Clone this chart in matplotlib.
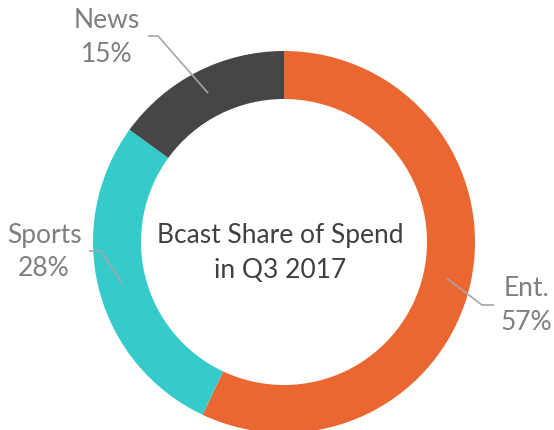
import numpy as np
import matplotlib.pyplot as plt

plt.rcParams['font.family'] = ['Lato', 'DejaVu Sans']

categories = ['Ent.', 'Sports', 'News']
shares = [57, 28, 15]
colors = ['#EB6731', '#36CBCB', '#464646']

# label block centres and leader elbows, in pixel coords (y down)
label_pos = {'Ent.': (526, 305), 'Sports': (44, 252), 'News': (107, 37)}
elbow = {'Ent.': [(482, 305), (494, 305)],
         'Sports': [(101, 251), (89, 251)],
         'News': [(158, 36), (148, 36)]}

W, H = 554, 430
fig = plt.figure(figsize=(W / 100, H / 100), dpi=100)
ax = fig.add_axes([0, 0, 1, 1])

cx, cy = 284, H - 242
R, ring = 191, 48

wedges, _ = ax.pie(shares, colors=colors, startangle=90, counterclock=False,
                   center=(cx, cy), radius=R,
                   wedgeprops=dict(width=ring, linewidth=0), frame=True)
ax.set_xlim(0, W)
ax.set_ylim(0, H)
ax.axis('off')

for w, name, val in zip(wedges, categories, shares):
    ang = np.deg2rad((w.theta1 + w.theta2) / 2)
    r = R - ring / 2
    p0 = (cx + r * np.cos(ang), cy + r * np.sin(ang))
    pts = [p0] + [(x, H - y) for x, y in elbow[name]]
    xs, ys = zip(*pts)
    ax.plot(xs, ys, color='#A6A6A6', lw=1.2, solid_capstyle='butt')
    lx, ly = label_pos[name]
    ax.text(lx, H - ly, f'{name}\n{val}%', ha='center', va='center',
            fontsize=19, color='#7F7F7F', linespacing=1.45)

ax.text(280, H - 253, 'Bcast Share of Spend\nin Q3 2017', ha='center',
        va='center', fontsize=19, color='#404040', linespacing=1.55)

fig.savefig('out.png', dpi=100)
